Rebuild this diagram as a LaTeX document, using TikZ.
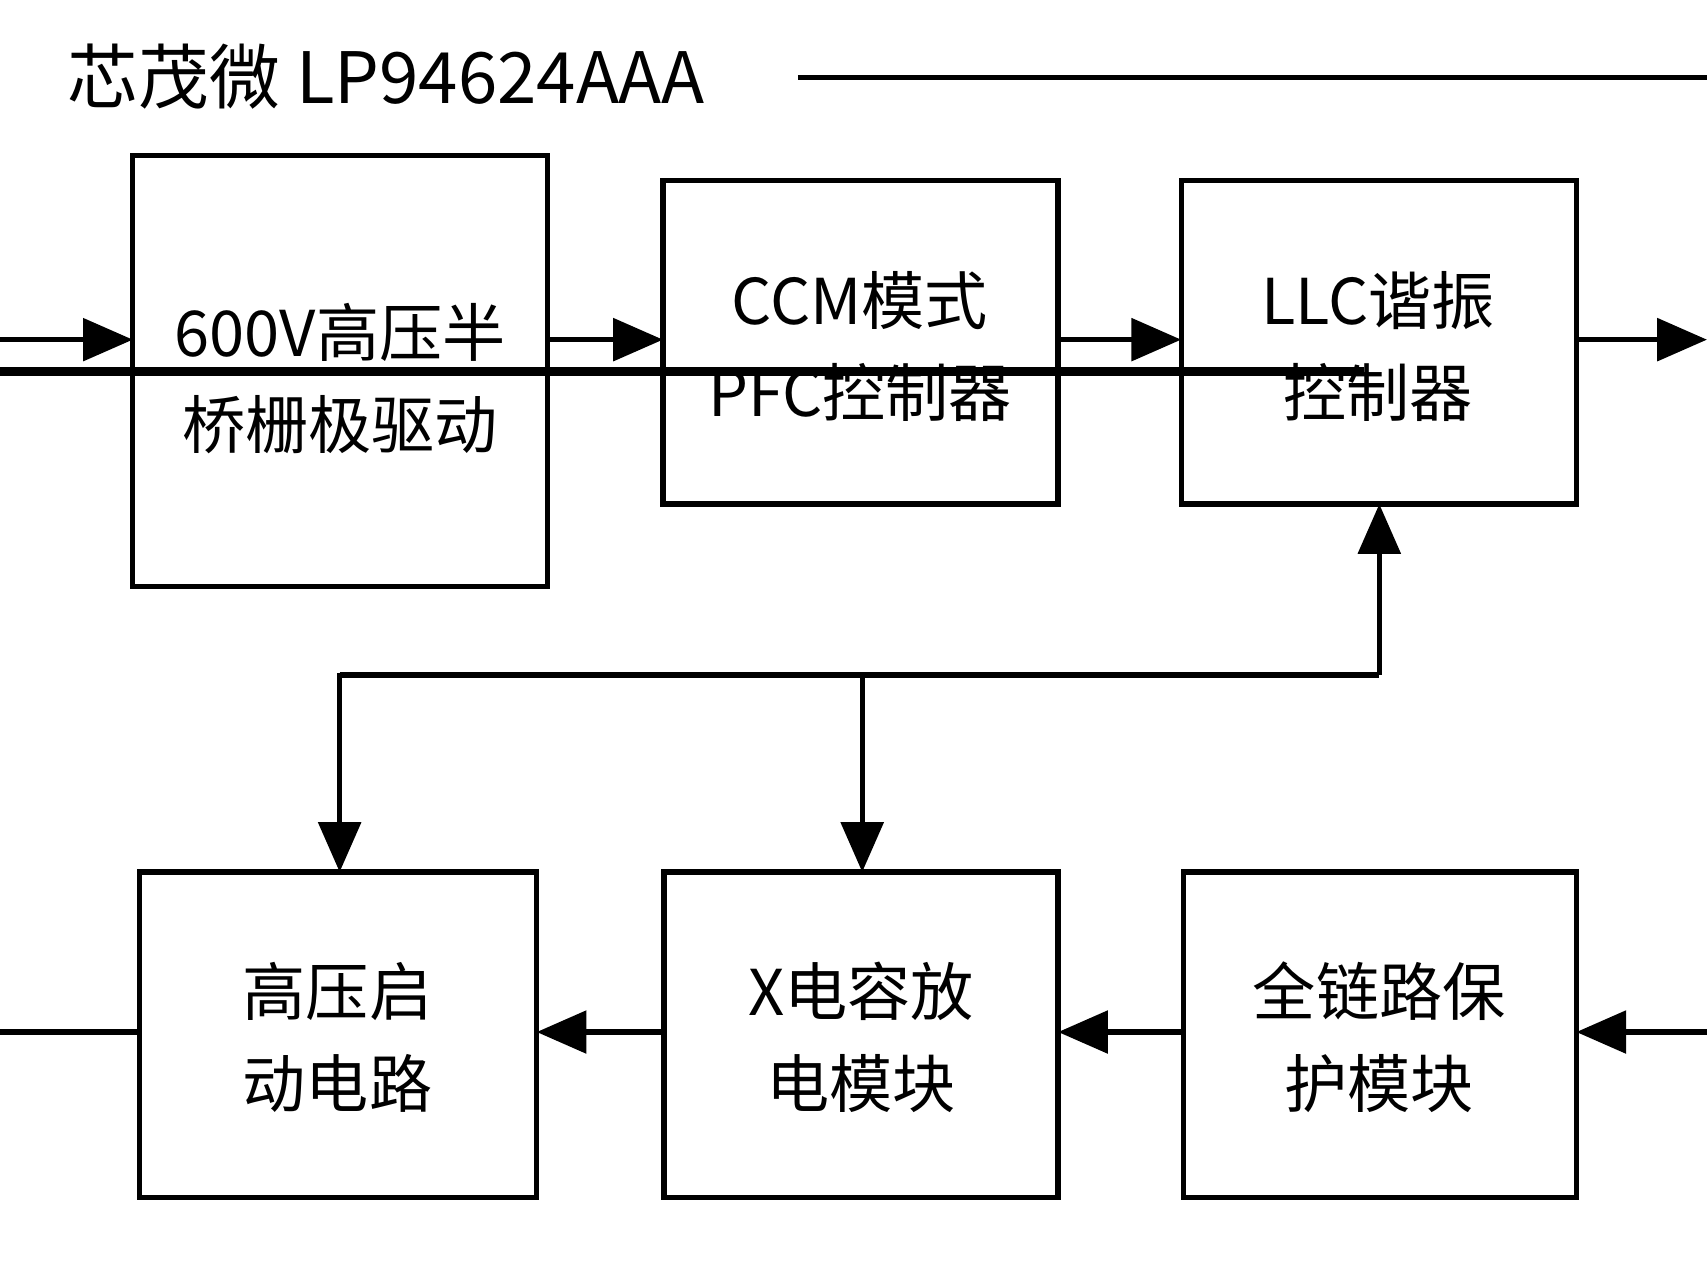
\documentclass[tikz,border=0pt]{standalone}
\usepackage{fontspec}
\setmainfont{Noto Sans CJK SC}
\usetikzlibrary{arrows.meta}
\begin{document}
\begin{tikzpicture}[x=0.01cm,y=-0.01cm,
  blk/.style={draw,line width=1.4pt,inner sep=0pt,align=center,font=\fontsize{16.5}{24}\selectfont},
  ln/.style={line width=1.4pt},
  ar/.style={ln,-{Triangle[length=13pt,width=11pt]}}]
\useasboundingbox (0,0) rectangle (1568,1176);
\node[blk,minimum width=381\pgflinewidth] (A) at (312.5,341) {};
\draw[ln] (122,143) rectangle (503,539);
\node[font=\fontsize{16.5}{24}\selectfont,align=center] at (312.5,348) {600V高压半\\桥栅极驱动};
\coordinate (Ain) at (122,312); \coordinate (Aout) at (503,312);
\draw[ln] (609,166) rectangle (972,463);
\node[font=\fontsize{16.5}{24}\selectfont,align=center] at (790,318) {CCM模式\\PFC控制器};
\draw[ln] (1085,166) rectangle (1448,463);
\node[font=\fontsize{16.5}{24}\selectfont,align=center] at (1266,318) {LLC谐振\\控制器};
\draw[ln] (128,801) rectangle (493,1100);
\node[font=\fontsize{16.5}{24}\selectfont,align=center] at (310,953) {高压启\\动电路};
\draw[ln] (610,801) rectangle (972,1100);
\node[font=\fontsize{16.5}{24}\selectfont,align=center] at (791,953) {X电容放\\电模块};
\draw[ln] (1087,801) rectangle (1448,1100);
\node[font=\fontsize{16.5}{24}\selectfont,align=center] at (1267,953) {全链路保\\护模块};
\node[anchor=west,font=\fontsize{18.5}{22}\selectfont] (T) at (50,70) {芯茂微 LP94624AAA};
\draw[ln] (733,71) -- (1568,71);
\coordinate (i0) at (0,312); \coordinate (o0) at (1568,312);
\draw[ar] (i0) -- (122,312);
\draw[ar] (503,312) -- (609,312);
\draw[ar] (972,312) -- (1085,312);
\draw[ar] (1448,312) -- (o0);
\draw[ln] (128,948) -- (0,948);
\draw[ar] (610,948) -- (493,948);
\draw[ar] (1087,948) -- (972,948);
\draw[ar] (1568,948) -- (1448,948);
\draw[ar] (1267,620) -- (1267,463);
\draw[ln] (312,620) -- (1267,620);
\draw[ar] (312,618) -- (312,801);
\draw[ar] (792,620) -- (792,801);
\end{tikzpicture}
\end{document}
